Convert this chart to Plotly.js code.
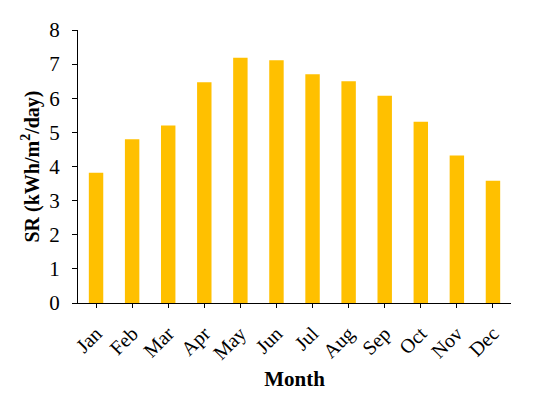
<!DOCTYPE html>
<html>
<head>
<script src="https://cdn.plot.ly/plotly-3.0.1.min.js"></script>
<style>html,body{margin:0;padding:0;background:#fff;}</style>
</head>
<body>
<div id="chart" style="width:550px;height:398px;"></div>
<script>
const months = ["Jan","Feb","Mar","Apr","May","Jun","Jul","Aug","Sep","Oct","Nov","Dec"];
const srValues = [3.82, 4.80, 5.20, 6.47, 7.19, 7.11, 6.70, 6.50, 6.07, 5.31, 4.32, 3.58];
const yTicks = [0,1,2,3,4,5,6,7,8];

const font = "Liberation Serif, Times New Roman, serif";
Plotly.newPlot("chart", [{
  type: "bar",
  x: months,
  y: srValues,
  marker: {color: "#FFC000"},
  hoverinfo: "none"
}], {
  width: 550, height: 398,
  margin: {l: 78, r: 39, t: 30, b: 95},
  paper_bgcolor: "#fff", plot_bgcolor: "#fff",
  bargap: 0.6,
  font: {family: font, size: 18, color: "#000"},
  xaxis: {
    type: "category",
    tickangle: -45,
    showline: true, linecolor: "#000", linewidth: 1,
    ticks: "outside", ticklen: 4, tickcolor: "#000",
    showgrid: false, zeroline: false,
    tickfont: {family: font, size: 20},
    ticklabelstandoff: 6,
    title: {text: "<b>Month</b>", font: {family: font, size: 21}, standoff: 7}
  },
  yaxis: {
    range: [0, 8],
    tickvals: yTicks,
    showline: true, linecolor: "#000", linewidth: 1,
    ticks: "outside", ticklen: 5, tickcolor: "#000",
    showgrid: false, zeroline: false,
    tickfont: {family: font, size: 21},
    ticklabelstandoff: 8,
    title: {text: "<b>SR (kWh/m<sup>2</sup>/day)</b>", font: {family: font, size: 20}, standoff: 4}
  },
  showlegend: false
}, {displayModeBar: false, staticPlot: true});
</script>
</body>
</html>
